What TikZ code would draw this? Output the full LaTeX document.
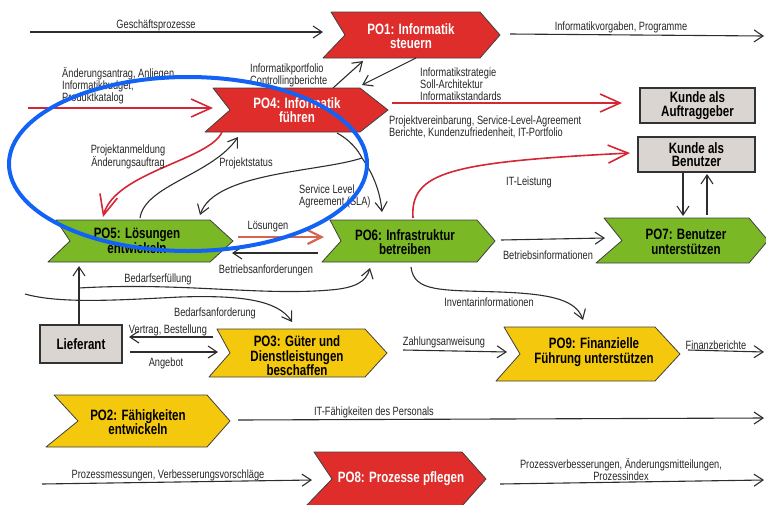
\documentclass[tikz,border=0pt]{standalone}
\usepackage{fontspec}
\setmainfont{Liberation Sans}[FakeStretch=0.77]
\usetikzlibrary{arrows.meta}

\definecolor{pored}{RGB}{222,45,42}
\definecolor{pogreen}{RGB}{122,184,38}
\definecolor{poyellow}{RGB}{244,200,12}
\definecolor{boxgray}{RGB}{218,213,208}
\definecolor{inkline}{RGB}{45,45,45}
\definecolor{redline}{RGB}{214,38,52}
\definecolor{salmon}{RGB}{214,100,80}
\definecolor{ringblue}{RGB}{18,98,245}

% chevron outline: style, centre x, centre y, half width, half height, notch depth, tip depth
\newcommand\chevpath[7]{%
  \path[#1] ({#2-#4+4},{#3-#5}) -- ({#2+#4-#7},{#3-#5}) -- ({#2+#4},#3)
    -- ({#2+#4-#7},{#3+#5}) -- ({#2-#4-4},{#3+#5}) -- ({#2-#4+#6},#3) -- cycle;}

\begin{document}
\begin{tikzpicture}[x=1pt,y=-1pt,
  font=\fontsize{12}{12}\selectfont,
  lbl/.style={inner sep=0pt, text=black!85, align=center},
  lblL/.style={inner sep=0pt, text=black!85, align=left, anchor=west},
  chevron/.style={draw=black!75, line width=0.8pt, line join=round},
  potext/.style={inner sep=0pt, align=center, font=\fontsize{15}{14.5}\selectfont\bfseries},
  kbox/.style={draw=black!80, line width=1.2pt, fill=boxgray, inner sep=0pt, align=center,
    font=\fontsize{15}{13.5}\selectfont\bfseries},
  arr/.style={draw=inkline, line width=1.1pt, -{Straight Barb[length=9pt,width=12pt]}},
  redarr/.style={draw=redline, line width=1.6pt, -{Straight Barb[length=20pt,width=18pt]}},
  solarr/.style={draw=salmon, line width=2.2pt, -{Straight Barb[length=14pt,width=14pt]}}]

\useasboundingbox (0,0) rectangle (766,504);

% process chevrons
\chevpath{chevron, fill=pored}{413.5}{35}{86.5}{23}{18}{20}
\chevpath{chevron, fill=pored}{298.5}{110}{89.5}{22}{21}{28}
\chevpath{chevron, fill=pogreen}{142.5}{241}{90.5}{21}{18}{23}
\chevpath{chevron, fill=pogreen}{410.5}{241}{84.5}{21}{15}{18}
\chevpath{chevron, fill=pogreen}{684}{240.5}{84}{22.5}{22}{19}
\chevpath{chevron, fill=poyellow}{300}{353}{87}{24}{17}{22}
\chevpath{chevron, fill=poyellow}{590}{354}{90}{27}{20}{25}
\chevpath{chevron, fill=poyellow}{140}{421}{90}{26}{28}{23}
\chevpath{chevron, fill=pored}{398}{479}{88}{27}{22}{24}

\node[potext, text=white] (po1) at (411,36) {PO1: Informatik\\steuern};
\node[potext, text=white] (po4) at (297,110) {PO4: Informatik\\führen};
\node[potext] (po5) at (137,241) {PO5: Lösungen\\entwickeln};
\node[potext] (po6) at (405,242) {PO6: Infrastruktur\\betreiben};
\node[potext] (po7) at (686,242) {PO7: Benutzer\\unterstützen};
\node[potext] (po3) at (297,356) {PO3: Güter und\\Dienstleistungen\\beschaffen};
\node[potext] (po9) at (594,352) {PO9: Finanzielle\\Führung unterstützen};
\node[potext] (po2) at (138,422) {PO2: Fähigkeiten\\entwickeln};
\node[potext, text=white] (po8) at (401,479) {PO8: Prozesse pflegen};

% partner boxes
\node[kbox, minimum width=115pt, minimum height=35pt] (kag) at (697.5,105.5) {Kunde als\\Auftraggeber};
\node[kbox, minimum width=117pt, minimum height=35pt] (kbn) at (696.5,154.5) {Kunde als\\Benutzer};
\node[kbox, minimum width=82pt, minimum height=38pt] (lief) at (81,344) {Lieferant};

% free ends
\coordinate (gp) at (30,32);
\coordinate (iv) at (764,36);
\coordinate (ch) at (28,108);
\coordinate (sla) at (362,158);
\coordinate (bf) at (79,288);
\coordinate (ba) at (25,294);
\coordinate (fb) at (764,352);
\coordinate (itf) at (764,418);
\coordinate (pm) at (42,484);
\coordinate (pv) at (764,480);

% connectors
\draw[arr] (gp) -- ([shift={(-88,-4)}]po1.center);
\draw[arr] ([shift={(99,-2)}]po1.center) -- (iv);
\draw[redarr] (ch) -- ([shift={(-84,-2)}]po4.center);
\draw[arr] ([shift={(36,-22)}]po4.center) -- ([shift={(-48,25)}]po1.center);
\draw[arr] ([shift={(5,22)}]po1.center) -- ([shift={(65,-25)}]po4.center);
\draw[redarr] ([shift={(95,-7)}]po4.center) -- ([shift={(-75.5,-2.5)}]kag.center);
\draw[redarr] ([shift={(-75,22)}]po4.center) .. controls (210,160) and (115,172) .. ([shift={(-34,-24)}]po5.center);
\draw[arr] ([shift={(3,-23)}]po5.center) .. controls (145,185) and (212,175) .. ([shift={(-59,27)}]po4.center);
\draw[arr] ([shift={(40,23)}]po4.center) .. controls (350,140) and (358,150) .. (sla)
  .. controls (372,172) and (380,190) .. ([shift={(-23,-30)}]po6.center);
\draw[arr] (sla) .. controls (320,172) and (215,172) .. ([shift={(63,-26)}]po5.center);
\draw[solarr] ([shift={(101,-4)}]po5.center) -- ([shift={(-81,-5)}]po6.center);
\draw[arr] ([shift={(-87,11)}]po6.center) -- ([shift={(95,12)}]po5.center);
\draw[arr] ([shift={(-2,-19)}]lief.center) -- ([shift={(-58,25)}]po5.center);
\draw[arr] (bf) .. controls (180,282) and (260,296) .. (330,290)
  .. controls (355,288) and (366,282) .. ([shift={(-35,26)}]po6.center);
\draw[arr] (ba) .. controls (60,304) and (120,300) .. (180,297)
  .. controls (240,295) and (278,300) .. ([shift={(-5,-34)}]po3.center);
\draw[arr] ([shift={(-84,-19)}]po3.center) -- ([shift={(48,-7)}]lief.center);
\draw[arr] ([shift={(49,8)}]lief.center) -- ([shift={(-79,-4)}]po3.center);
\draw[arr] ([shift={(106,-6)}]po3.center) -- ([shift={(-87,0)}]po9.center);
\draw[arr] ([shift={(94,-2)}]po9.center) -- (fb);
\draw[arr] ([shift={(6,25)}]po6.center) .. controls (414,292) and (440,290) .. (500,292)
  .. controls (552,294) and (576,300) .. ([shift={(-11,-32)}]po9.center);
\draw[redarr] ([shift={(8,-24)}]po6.center) .. controls (410,172) and (450,162) .. ([shift={(-66.5,-1.5)}]kbn.center);
\draw[arr] ([shift={(96,-2)}]po6.center) -- ([shift={(-81,-4)}]po7.center);
\draw[arr] ([shift={(-13.5,17.5)}]kbn.center) -- ([shift={(-3,-26)}]po7.center);
\draw[arr] ([shift={(21,-27)}]po7.center) -- ([shift={(10.5,19.5)}]kbn.center);
\draw[arr] ([shift={(100,-2)}]po2.center) -- (itf);
\draw[arr] (pm) -- ([shift={(-89,1)}]po8.center);
\draw[arr] ([shift={(99,5)}]po8.center) -- (pv);

% connector labels
\node[lbl] (l1) at (156,25) {Geschäftsprozesse};
\node[lbl] (l2) at (621,27) {Informatikvorgaben, Programme};
\node[lblL] (l3) at (62,86) {Änderungsantrag, Anliegen\\Informatikbudget,\\Produktkatalog};
\node[lblL] (l4) at (250,75) {Informatikportfolio\\Controllingberichte};
\node[lblL] (l5) at (420,84) {Informatikstrategie\\Soll-Architektur\\Informatikstandards};
\node[lblL] (l6) at (389,127) {Projektvereinbarung, Service-Level-Agreement\\Berichte, Kundenzufriedenheit, IT-Portfolio};
\node[lbl] (l7) at (128,157) {Projektanmeldung\\Änderungsauftrag};
\node[lbl] (l8) at (246,163) {Projektstatus};
\node[lblL] (l9) at (299,196) {Service Level\\Agreement (SLA)};
\node[lbl] (l10) at (268,227) {Lösungen};
\node[lbl] (l11) at (266,270) {Betriebsanforderungen};
\node[lbl] (l12) at (158,279) {Bedarfserfüllung};
\node[lbl] (l13) at (215,313) {Bedarfsanforderung};
\node[lbl] (l14) at (168,330) {Vertrag, Bestellung};
\node[lbl] (l15) at (166,363) {Angebot};
\node[lbl] (l16) at (444,342) {Zahlungsanweisung};
\node[lbl] (l17) at (716,345) {Finanzberichte};
\node[lbl] (l18) at (489,302) {Inventarinformationen};
\node[lbl] (l19) at (529,182) {IT-Leistung};
\node[lbl] (l20) at (548,255) {Betriebsinformationen};
\node[lbl] (l21) at (374,412) {IT-Fähigkeiten des Personals};
\node[lbl] (l22) at (168,475) {Prozessmessungen, Verbesserungsvorschläge};
\node[lbl] (l23) at (621,470) {Prozessverbesserungen, Änderungsmitteilungen,\\Prozessindex};

% highlight ring
\draw[ringblue, line width=4pt] (188,164) ellipse [x radius=179pt, y radius=87pt];

\end{tikzpicture}
\end{document}
